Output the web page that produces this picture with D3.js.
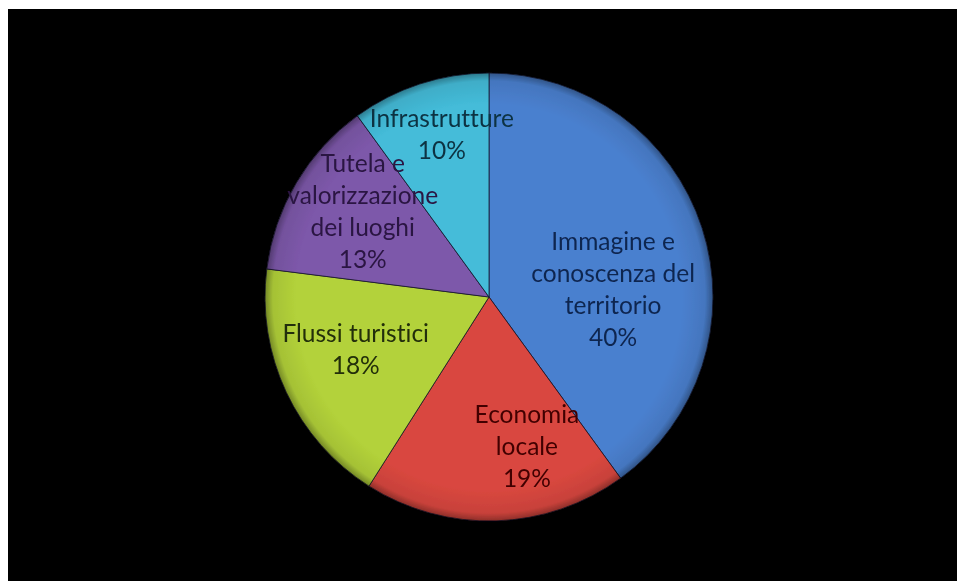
<!DOCTYPE html>
<html>
<head>
<meta charset="utf-8">
<script src="https://cdn.jsdelivr.net/npm/d3@7"></script>
<style>
  html, body { margin: 0; padding: 0; background: #ffffff; }
  svg { display: block; }
  text { font-variant-ligatures: none; font-feature-settings: "liga" 0, "dlig" 0; }
</style>
</head>
<body>
<svg id="chart" width="957" height="581"></svg>
<script>
// Slices, clockwise from 12 o'clock
const categories = [
  "Immagine e conoscenza del territorio",
  "Economia locale",
  "Flussi turistici",
  "Tutela e valorizzazione dei luoghi",
  "Infrastrutture"
];
const values = [40, 19, 18, 13, 10];
const labelLines = [
  ["Immagine e", "conoscenza del", "territorio"],
  ["Economia", "locale"],
  ["Flussi turistici"],
  ["Tutela e", "valorizzazione", "dei luoghi"],
  ["Infrastrutture"]
];
const fillColors = ["#4a80cf", "#d9473f", "#b3d23a", "#7d58aa", "#44bcd9"];
const textColors = ["#0e2550", "#420505", "#222f08", "#2a1442", "#0a3242"];

const W = 957, H = 581;
const svg = d3.select("#chart");

// white margin on the top/left, black plot area
svg.append("rect").attr("width", W).attr("height", H).attr("fill", "#ffffff");
svg.append("rect").attr("x", 8).attr("y", 9).attr("width", W - 8).attr("height", H - 9).attr("fill", "#000000");

const cx = 489, cy = 297, R = 224;
const data = categories.map((c, i) => ({ name: c, value: values[i], lines: labelLines[i], i }));

const pie = d3.pie().value(d => d.value).sort(null);
const arcs = pie(data);
const arc = d3.arc().innerRadius(0).outerRadius(R);

const defs = svg.append("defs");
// rim shading to give the slices a soft bevel
const rim = defs.append("radialGradient")
  .attr("id", "rim").attr("gradientUnits", "userSpaceOnUse")
  .attr("cx", 0).attr("cy", 0).attr("r", R);
rim.append("stop").attr("offset", "0.86").attr("stop-color", "#000").attr("stop-opacity", 0);
rim.append("stop").attr("offset", "0.965").attr("stop-color", "#000").attr("stop-opacity", 0.08);
rim.append("stop").attr("offset", "1").attr("stop-color", "#000").attr("stop-opacity", 0.35);

const soft = defs.append("filter").attr("id", "soft").attr("x", "-5%").attr("y", "-5%").attr("width", "110%").attr("height", "110%");
soft.append("feGaussianBlur").attr("stdDeviation", 0.6);

const g = svg.append("g").attr("transform", `translate(${cx},${cy})`);

const sl = g.append("g").attr("filter", "url(#soft)");
sl.selectAll("path.slice")
  .data(arcs)
  .join("path")
  .attr("class", "slice")
  .attr("d", arc)
  .attr("fill", d => fillColors[d.index])
  .attr("stroke", "rgba(20,20,40,0.75)")
  .attr("stroke-width", 1);

sl.selectAll("path.rim")
  .data(arcs)
  .join("path")
  .attr("class", "rim")
  .attr("d", arc)
  .attr("fill", "url(#rim)");

// label placement: polar position (radius fraction, angle shift in degrees) per slice
const labelPlace = [
  { r: 0.555, da: 14.8 },
  { r: 0.69, da: -12.4 },
  { r: 0.64, da: 3.6 },
  { r: 0.68, da: 3.4 },
  { r: 0.755, da: 1.8 }
];
const lineH = 32;

const labels = g.append("g").attr("filter", "url(#soft)");
arcs.forEach(d => {
  const p = labelPlace[d.index];
  const a = (d.startAngle + d.endAngle) / 2 + p.da * Math.PI / 180;
  const lx = Math.sin(a) * R * p.r;
  const ly = -Math.cos(a) * R * p.r;
  const lines = d.data.lines.concat([d3.format(".0f")(d.data.value) + "%"]);
  const t = labels.append("text")
    .attr("text-anchor", "middle")
    .attr("font-family", "Lato, 'Open Sans', sans-serif")
    .attr("font-size", 24.5)
    .attr("fill", textColors[d.index]);
  const y0 = ly - (lines.length - 1) * lineH / 2 + 8;
  lines.forEach((ln, k) => {
    t.append("tspan").attr("x", lx).attr("y", y0 + k * lineH).text(ln);
  });
});
</script>
</body>
</html>
